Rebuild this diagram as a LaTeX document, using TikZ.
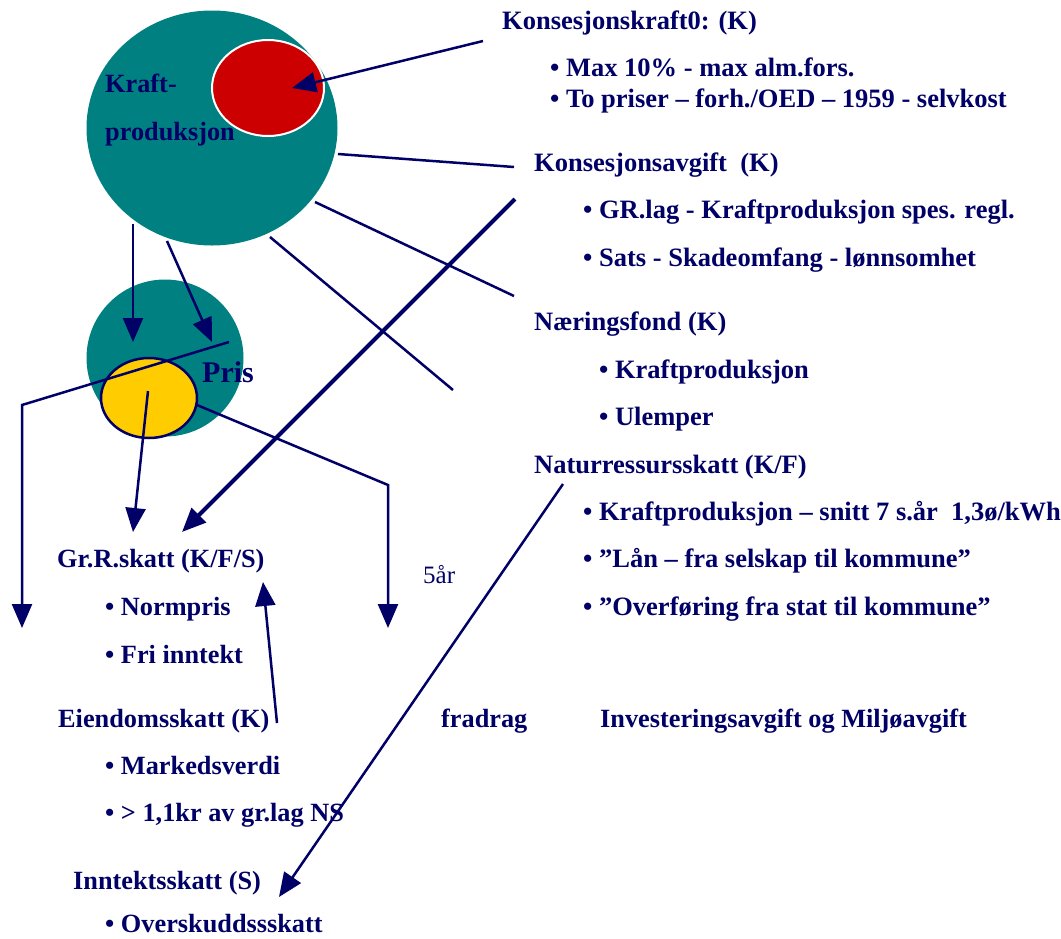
\documentclass[tikz,border=0pt]{standalone}
\usepackage{fontspec}
\setmainfont{Liberation Serif}
\usetikzlibrary{shapes.geometric,arrows.meta}
\definecolor{navy}{RGB}{0,0,102}
\definecolor{tealc}{RGB}{0,128,128}
\definecolor{redc}{RGB}{204,0,0}
\definecolor{yel}{RGB}{255,204,0}
\begin{document}
\begin{tikzpicture}[x=1pt,y=-1pt,
  hd/.style={anchor=base west, inner sep=0, text=navy, font=\fontsize{26.5}{31}\selectfont\bfseries},
  hl/.style={anchor=base west, inner sep=0, text=navy, font=\fontsize{26.3}{31}\selectfont\bfseries},
  ln/.style={draw=navy, line width=2.5pt},
  thk/.style={draw=navy, line width=4pt},
  tip/.style={-{Triangle[length=24pt,width=20pt]}},
  ]
\useasboundingbox (0,0) rectangle (1061,938);
% shapes
\node[ellipse, fill=tealc, minimum width=251pt, minimum height=235pt, inner sep=0] (kp) at (212,128) {};
\node[ellipse, fill=redc, draw=white, line width=2pt, minimum width=112pt, minimum height=96pt, inner sep=0] (kk) at (268,88) {};
\node[circle, fill=tealc, minimum size=157pt, inner sep=0] (pc) at (165,358) {};
\node[ellipse, fill=yel, draw=navy, line width=2.5pt, minimum width=96pt, minimum height=80pt, inner sep=0] (pe) at (149,398) {};
\node[hl] (kpt1) at (105,92) {Kraft-};
\node[hl] (kpt2) at (105,140) {produksjon};
\node[anchor=base west, inner sep=0, text=navy, font=\fontsize{30}{34}\selectfont\bfseries] (pris) at (202,382) {Pris};
% right texts
\node[hd] (k0) at (502,29) {Konsesjonskraft0: (K)};
\node[hd] (k0a) at (550,76) {• Max 10\% - max alm.fors.};
\node[hd] (k0b) at (550,107) {• To priser – forh./OED – 1959 - selvkost};
\node[hd] (ka) at (534,171) {Konsesjonsavgift\ \ (K)};
\node[hd] (kaa) at (583,218) {• GR.lag - Kraftproduksjon spes. regl.};
\node[hd] (kab) at (583,266) {• Sats - Skadeomfang - lønnsomhet};
\node[hd] (nf) at (534,330) {Næringsfond (K)};
\node[hd] (nfa) at (599,378) {• Kraftproduksjon};
\node[hd] (nfb) at (599,425) {• Ulemper};
\node[hd] (nr) at (534,473) {Naturressursskatt (K/F)};
\node[hd] (nra) at (583,520) {• Kraftproduksjon – snitt 7 s.år\ \ 1,3ø/kWh};
\node[hd] (nrb) at (583,567) {• ”Lån – fra selskap til kommune”};
\node[hd] (nrc) at (583,615) {• ”Overføring fra stat til kommune”};
% left texts
\node[hl] (gr) at (57,567) {Gr.R.skatt (K/F/S)};
\node[hl] (gra) at (105,615) {• Normpris};
\node[hl] (grb) at (105,663) {• Fri inntekt};
\node[hl] (es) at (58,727) {Eiendomsskatt (K)};
\node[hl] (fr) at (441,727) {fradrag};
\node[hl] (ia) at (600,727) {Investeringsavgift og Miljøavgift};
\node[hl] (esa) at (105,774) {• Markedsverdi};
\node[hl] (esb) at (105,821) {• > 1,1kr av gr.lag NS};
\node[hl] (is) at (73,889) {Inntektsskatt (S)};
\node[hl] (isa) at (105,932) {• Overskuddssskatt};
\node[anchor=base west, inner sep=0, text=navy, font=\fontsize{25}{30}\selectfont] (fa) at (423,583) {5år};
% coordinates
\coordinate (a1s) at (483,41);   \coordinate (a1e) at (292,88);
\coordinate (l1s) at (338,154);  \coordinate (l1e) at (514,167);
\coordinate (l2s) at (315,202);  \coordinate (l2e) at (514,296);
\coordinate (l3s) at (270,237);  \coordinate (l3e) at (453,390);
\coordinate (tks) at (515,199);  \coordinate (tke) at (182,532);
\coordinate (d1s) at (133,224);  \coordinate (d1e) at (133,342);
\coordinate (d2s) at (167,241);  \coordinate (d2e) at (212,342);
\coordinate (y1s) at (148,391);  \coordinate (y1e) at (133,532);
\coordinate (p1s) at (229,342);  \coordinate (p1m) at (22,405);  \coordinate (p1e) at (22,628);
\coordinate (p2s) at (197,405);  \coordinate (p2m) at (388,485); \coordinate (p2e) at (388,628);
\coordinate (es1) at (277,723);  \coordinate (es2) at (263,582);
\coordinate (nr1) at (563,484);  \coordinate (nr2) at (279,897);
% connectors
\draw[ln,tip] (a1s) -- (a1e);
\draw[ln] (l1s) -- (l1e);
\draw[ln] (l2s) -- (l2e);
\draw[ln] (l3s) -- (l3e);
\draw[thk,tip] (tks) -- (tke);
\draw[ln,tip] (d1s) -- (d1e);
\draw[ln,tip] (d2s) -- (d2e);
\draw[ln,tip] (y1s) -- (y1e);
\draw[ln,tip] (p1s) -- (p1m) -- (p1e);
\draw[ln,tip] (p2s) -- (p2m) -- (p2e);
\draw[ln,tip] (es1) -- (es2);
\draw[ln,tip] (nr1) -- (nr2);
\end{tikzpicture}
\end{document}
